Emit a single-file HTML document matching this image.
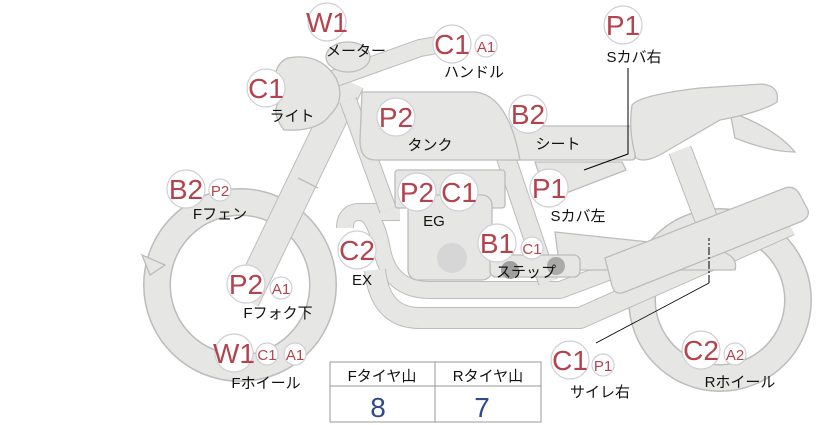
<!DOCTYPE html>
<html><head><meta charset="utf-8"><style>
body{margin:0;background:#fff}
svg{display:block}
.o{fill:none;stroke:#bcbcbc}
.f{fill:none;stroke:#e6e6e4}
.s{fill:#e6e6e4;stroke:#bcbcbc;stroke-width:1.3}
.b{fill:#fff;stroke:#cfcfd6;stroke-width:1.2}
.bt{font-family:"Liberation Sans",sans-serif;fill:#b5434d;text-anchor:middle}
.lb{font-family:"Liberation Sans","Noto Sans CJK JP",sans-serif;font-size:15px;fill:#111;text-anchor:middle}
</style></head><body>
<svg width="822" height="425" viewBox="0 0 822 425">
<!-- wheels -->
<circle cx="240" cy="285" r="83" class="o" stroke-width="28"/>
<circle cx="240" cy="285" r="83" class="f" stroke-width="25"/>
<path d="M150 275 L142 255 L165 265 Z" class="s"/>
<circle cx="720" cy="300" r="78" class="o" stroke-width="28"/>
<circle cx="720" cy="300" r="78" class="f" stroke-width="25"/>
<!-- exhaust pipes -->
<path d="M400 212 L360 212 Q345 212 345 228 M360 212 Q375 212 382 250 Q390 290 430 290 L560 290 L800 200" class="o" stroke-width="18" stroke-linejoin="round"/>
<path d="M400 212 L360 212 Q345 212 345 228 M360 212 Q375 212 382 250 Q390 290 430 290 L560 290 L800 200" class="f" stroke-width="16" stroke-linejoin="round"/>
<path d="M375 270 Q380 318 420 318 L580 318 L790 225" class="o" stroke-width="22" stroke-linejoin="round"/>
<path d="M375 270 Q380 318 420 318 L580 318 L790 225" class="f" stroke-width="20" stroke-linejoin="round"/>
<!-- fork tube & frame -->
<path d="M350 82 L245 300" class="o" stroke-width="30"/>
<path d="M350 82 L245 300" class="f" stroke-width="28"/>
<path d="M298 178 L318 188" stroke="#bcbcbc" stroke-width="1.3"/>
<path d="M348 100 L388 210" class="o" stroke-width="18"/>
<path d="M348 100 L388 210" class="f" stroke-width="16"/>
<path d="M500 140 L548 282" class="o" stroke-width="20"/>
<path d="M500 140 L548 282" class="f" stroke-width="18"/>
<!-- rear shock & swingarm -->
<path d="M680 150 L718 250" class="o" stroke-width="24"/>
<path d="M680 150 L718 250" class="f" stroke-width="22"/>
<path d="M555 232 L705 248 Q740 252 735 270 L560 270 Z" class="s"/>
<!-- muffler -->
<path d="M605 258 L785 188 Q795 185 800 195 L808 210 Q810 218 800 222 L625 292 Q615 296 612 286 Z" class="s"/>
<!-- engine -->
<rect x="395" y="170" width="110" height="38" rx="3" class="s"/>
<rect x="408" y="195" width="84" height="85" rx="10" class="s"/>
<circle cx="452" cy="258" r="15" fill="#d6d6d6"/>
<!-- step -->
<rect x="490" y="255" width="90" height="22" rx="6" class="s"/>
<circle cx="510" cy="270" r="9" fill="#9f9f9f"/>
<circle cx="556" cy="266" r="9" fill="#aaa"/>
<!-- seat front bar & s cover -->
<rect x="505" y="126" width="130" height="34" rx="3" class="s"/>
<path d="M535 162 L622 162 L626 170 L548 200 Z" class="s"/>
<!-- tank -->
<path d="M362 92 L475 92 Q508 95 520 160 L375 160 Q360 160 360 140 Z" class="s"/>
<!-- seat -->
<path d="M730 112 Q775 128 795 152 Q770 152 735 138 Z" class="s"/>
<path d="M632 105 Q640 95 700 88 L762 84 Q780 86 777 102 Q762 112 720 120 L665 152 Q645 164 636 158 Q628 130 632 105 Z" class="s"/>
<!-- handlebar, meter, light -->
<path d="M330 80 L420 48 L448 43" class="o" stroke-width="18" stroke-linecap="round"/>
<path d="M330 80 L420 48 L448 43" class="f" stroke-width="16" stroke-linecap="round"/>
<ellipse cx="348" cy="57" rx="22" ry="15" class="s"/>
<path d="M288 58 Q320 52 336 78 Q346 100 330 115 Q318 132 284 130 Q270 112 280 100 Q268 66 288 58 Z" class="s"/>
<!-- leader lines -->
<path d="M628 68 L628 154 L584 170" fill="none" stroke="#000" stroke-width="1"/>
<path d="M596 343 L709 283" fill="none" stroke="#000" stroke-width="0.8"/>
<path d="M709 283 L709 238" fill="none" stroke="#000" stroke-width="1" stroke-dasharray="8 2 2 2"/>
<!-- table -->
<rect x="330" y="362" width="211" height="60" fill="#fff" stroke="#999"/>
<line x1="330" y1="386" x2="541" y2="386" stroke="#999"/>
<line x1="435" y1="362" x2="435" y2="422" stroke="#999"/>
<text x="382" y="381" class="lb">Fタイヤ山</text>
<text x="488" y="381" class="lb">Rタイヤ山</text>
<text x="378" y="417" font-family="Liberation Sans,sans-serif" font-size="28" fill="#2d4a8a" text-anchor="middle">8</text>
<text x="482" y="417" font-family="Liberation Sans,sans-serif" font-size="28" fill="#2d4a8a" text-anchor="middle">7</text>
<!-- badges -->
<g>
<circle cx="327" cy="22" r="19" class="b"/><text x="327" y="32" class="bt" font-size="28">W1</text>
<circle cx="452" cy="44" r="19" class="b"/><text x="452" y="54" class="bt" font-size="28">C1</text>
<circle cx="486" cy="46" r="11" class="b"/><text x="486" y="52" class="bt" font-size="15">A1</text>
<circle cx="623" cy="25" r="19" class="b"/><text x="623" y="35" class="bt" font-size="28">P1</text>
<circle cx="266" cy="88" r="19" class="b"/><text x="266" y="98" class="bt" font-size="28">C1</text>
<circle cx="396" cy="117" r="19" class="b"/><text x="396" y="127" class="bt" font-size="28">P2</text>
<circle cx="528" cy="114" r="19" class="b"/><text x="528" y="124" class="bt" font-size="28">B2</text>
<circle cx="186" cy="189" r="19" class="b"/><text x="186" y="199" class="bt" font-size="28">B2</text>
<circle cx="220" cy="190" r="11" class="b"/><text x="220" y="196" class="bt" font-size="15">P2</text>
<circle cx="417" cy="192" r="19" class="b"/><text x="417" y="202" class="bt" font-size="28">P2</text>
<circle cx="459" cy="192" r="19" class="b"/><text x="459" y="202" class="bt" font-size="28">C1</text>
<circle cx="549" cy="188" r="19" class="b"/><text x="549" y="198" class="bt" font-size="28">P1</text>
<circle cx="357" cy="250" r="19" class="b"/><text x="357" y="260" class="bt" font-size="28">C2</text>
<circle cx="497" cy="243" r="19" class="b"/><text x="497" y="253" class="bt" font-size="28">B1</text>
<circle cx="532" cy="248" r="11" class="b"/><text x="532" y="254" class="bt" font-size="15">C1</text>
<circle cx="246" cy="284" r="19" class="b"/><text x="246" y="294" class="bt" font-size="28">P2</text>
<circle cx="281" cy="288" r="11" class="b"/><text x="281" y="294" class="bt" font-size="15">A1</text>
<circle cx="234" cy="353" r="19" class="b"/><text x="234" y="363" class="bt" font-size="28">W1</text>
<circle cx="267" cy="354" r="11" class="b"/><text x="267" y="360" class="bt" font-size="15">C1</text>
<circle cx="295" cy="354" r="11" class="b"/><text x="295" y="360" class="bt" font-size="15">A1</text>
<circle cx="570" cy="360" r="19" class="b"/><text x="570" y="370" class="bt" font-size="28">C1</text>
<circle cx="603" cy="365" r="11" class="b"/><text x="603" y="371" class="bt" font-size="15">P1</text>
<circle cx="701" cy="350" r="19" class="b"/><text x="701" y="360" class="bt" font-size="28">C2</text>
<circle cx="735" cy="354" r="11" class="b"/><text x="735" y="360" class="bt" font-size="15">A2</text>
</g>
<!-- labels -->
<text x="356" y="56" class="lb">メーター</text>
<text x="474" y="77" class="lb">ハンドル</text>
<text x="634" y="62" class="lb">Sカバ右</text>
<text x="292" y="121" class="lb">ライト</text>
<text x="430" y="150" class="lb">タンク</text>
<text x="558" y="149" class="lb">シート</text>
<text x="220" y="219" class="lb">Fフェン</text>
<text x="434" y="226" class="lb">EG</text>
<text x="578" y="221" class="lb">Sカバ左</text>
<text x="362" y="285" class="lb">EX</text>
<text x="526" y="277" class="lb">ステップ</text>
<text x="278" y="318" class="lb">Fフォク下</text>
<text x="266" y="388" class="lb">Fホイール</text>
<text x="600" y="397" class="lb">サイレ右</text>
<text x="740" y="387" class="lb">Rホイール</text>
</svg>
</body></html>
